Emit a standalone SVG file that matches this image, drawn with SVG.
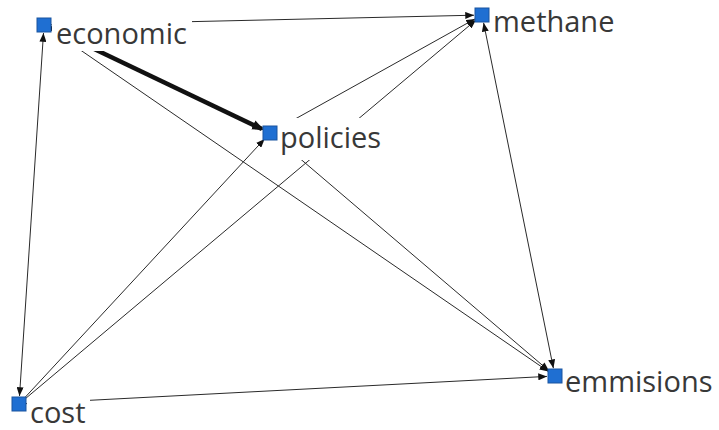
<svg xmlns="http://www.w3.org/2000/svg" width="719" height="430" viewBox="0 0 719 430">
<style>
.e{stroke:#2a2a2a;stroke-width:1;fill:none}
.thick{stroke:#111;stroke-width:4.5;fill:none}
.bg{fill:#fff}
.lbl{font-family:"Open Sans","DejaVu Sans",sans-serif;font-size:29px;fill:#383838}
.nd{fill:#1f6fd2;stroke:#1a559f;stroke-width:1}
</style>
<defs>
<marker id="a" viewBox="0 0 10 8" markerWidth="9" markerHeight="7" refX="10" refY="4" orient="auto" markerUnits="userSpaceOnUse"><path d="M0,0 L10,4 L0,8 z" fill="#111"/></marker>
<marker id="as" viewBox="0 0 10 8" markerWidth="9" markerHeight="7" refX="10" refY="4" orient="auto-start-reverse" markerUnits="userSpaceOnUse"><path d="M0,0 L10,4 L0,8 z" fill="#111"/></marker>
<marker id="at" viewBox="0 0 10 8" markerWidth="12" markerHeight="10" refX="8" refY="4" orient="auto" markerUnits="userSpaceOnUse"><path d="M0,0 L10,4 L0,8 z" fill="#111"/></marker>
</defs>
<rect width="719" height="430" fill="#fff"/>
<g id="connectors">
<line class="e" x1="44" y1="25" x2="474" y2="15.2" marker-end="url(#a)"/>
<line class="thick" x1="44" y1="25" x2="262" y2="129" marker-end="url(#at)"/>
<line class="e" x1="44" y1="25" x2="548.4" y2="371.5" marker-end="url(#a)"/>
<line class="e" x1="19.5" y1="396" x2="43.5" y2="33" marker-start="url(#as)" marker-end="url(#as)"/>
<line class="e" x1="24.4" y1="398.1" x2="264.6" y2="138.9" marker-end="url(#a)"/>
<line class="e" x1="25.1" y1="398.9" x2="475.9" y2="20.1" marker-end="url(#a)"/>
<line class="e" x1="270" y1="133" x2="475" y2="18.9" marker-end="url(#a)"/>
<line class="e" x1="270" y1="133" x2="548.9" y2="370.8" marker-end="url(#a)"/>
<line class="e" x1="483.6" y1="22.8" x2="553.4" y2="368.2" marker-start="url(#as)" marker-end="url(#as)"/>
<line class="e" x1="19" y1="404" x2="547" y2="376.4" marker-end="url(#a)"/>
</g>
<g id="node-economic">
<rect class="bg" x="52" y="12" width="140" height="39"/>
<text class="lbl" x="56" y="44">economic</text>
<rect class="nd" x="37" y="18" width="14" height="14"/>
</g>
<g id="node-methane">
<rect class="bg" x="489" y="3" width="133" height="37"/>
<text class="lbl" x="493" y="32">methane</text>
<rect class="nd" x="475" y="8" width="14" height="14"/>
</g>
<g id="node-policies">
<rect class="bg" x="277" y="118" width="108" height="42"/>
<text class="lbl" x="280" y="148">policies</text>
<rect class="nd" x="263" y="126" width="14" height="14"/>
</g>
<g id="node-cost">
<rect class="bg" x="27" y="399" width="63" height="30"/>
<text class="lbl" x="30" y="423">cost</text>
<rect class="nd" x="12" y="397" width="14" height="14"/>
</g>
<g id="node-emmisions">
<rect class="bg" x="563" y="366" width="155" height="36"/>
<text class="lbl" x="565" y="392">emmisions</text>
<rect class="nd" x="548" y="369" width="14" height="14"/>
</g>
</svg>
